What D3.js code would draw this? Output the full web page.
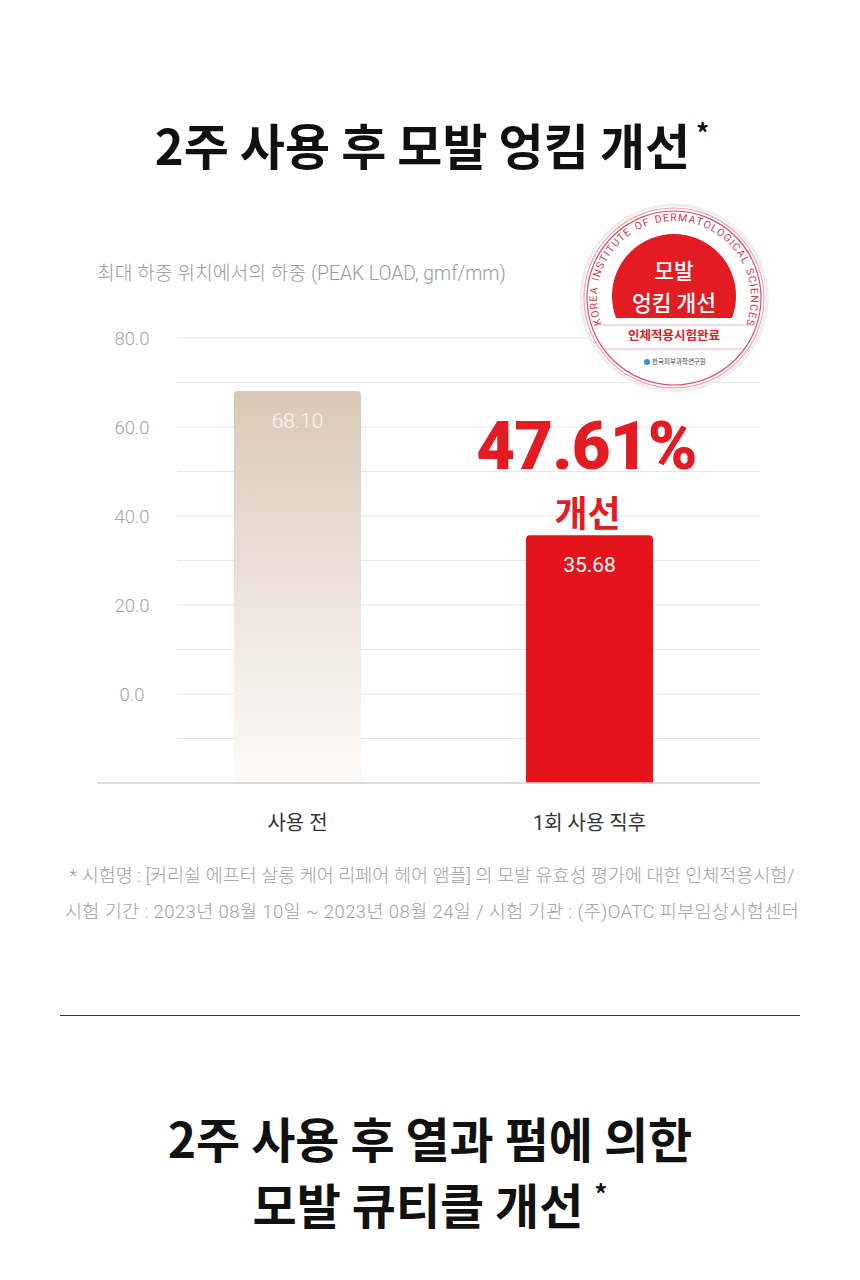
<!DOCTYPE html>
<html>
<head>
<meta charset="utf-8">
<script src="https://cdn.jsdelivr.net/npm/d3@7"></script>
<style>
  body { margin: 0; background: #fff; }
  svg { display: block; }
  text { font-family: Roboto, "Noto Sans CJK KR", sans-serif; }
</style>
</head>
<body>
<div id="chart"></div>
<script>
// Data
const categories = ["사용 전", "1회 사용 직후"];
const values = [68.10, 35.68];
const valueLabels = ["68.10", "35.68"];
const yTicks = [0, 20, 40, 60, 80];
const gridValues = [-10, 0, 10, 20, 30, 40, 50, 60, 70, 80];
const footnotes = [
    "* 시험명 : [커리쉴 에프터 살롱 케어 리페어 헤어 앰플] 의 모발 유효성 평가에 대한 인체적용시험/",
    "시험 기간 : 2023년 08월 10일 ~ 2023년 08월 24일 / 시험 기관 : (주)OATC 피부임상시험센터"
];
const ringLabel = "KOREA INSTITUTE OF DERMATOLOGICAL SCIENCES";

const W = 860, H = 1280;
const svg = d3.select("#chart").append("svg")
    .attr("width", W)
    .attr("height", H);

const defs = svg.append("defs");
const grad = defs.append("linearGradient")
    .attr("id", "beige")
    .attr("x1", "0%").attr("y1", "0%")
    .attr("x2", "0%").attr("y2", "100%");
grad.append("stop").attr("offset", "0%").attr("stop-color", "#d9c8b7");
grad.append("stop").attr("offset", "55%").attr("stop-color", "#eee5dc");
grad.append("stop").attr("offset", "100%").attr("stop-color", "#fdfbf9");

// Title
const title = svg.append("text")
    .attr("x", 432).attr("y", 165)
    .attr("text-anchor", "middle")
    .style("font-family", "'Noto Sans CJK KR'")
    .style("font-weight", 700)
    .style("font-size", "49px")
    .attr("fill", "#111");
title.append("tspan").text("2주 사용 후 모발 엉킴 개선");
title.append("tspan").attr("dx", 6).attr("dy", -22).style("font-size", "26px").text("*");

// Scales
const x = d3.scaleBand()
    .domain(categories)
    .range([151.5, 735.5])
    .paddingInner(0.565)
    .paddingOuter(0.2825);

const y = d3.scaleLinear()
    .domain([-20, 80])
    .range([783, 338]);

// Axis title
svg.append("text")
    .attr("x", 97).attr("y", 280)
    .attr("fill", "#9a9a9a")
    .style("font-size", "19.3px")
    .style("font-weight", 300)
    .text("최대 하중 위치에서의 하중 (PEAK LOAD, gmf/mm)");

// Grid lines
svg.append("g")
    .selectAll("line")
    .data(gridValues)
    .join("line")
    .attr("x1", 177).attr("x2", 760)
    .attr("y1", d => y(d)).attr("y2", d => y(d))
    .attr("stroke", "#e6e6e6")
    .attr("stroke-width", 1);

// Tick labels
svg.append("g")
    .selectAll("text")
    .data(yTicks)
    .join("text")
    .attr("x", 132)
    .attr("y", d => y(d) + 7)
    .attr("text-anchor", "middle")
    .attr("fill", "#a4a4a4")
    .style("font-size", "18.5px")
    .style("font-weight", 300)
    .text(d => d.toFixed(1));

// Bars with rounded top corners
function barPath(x0, w, top, bottom, r) {
    return `M${x0},${bottom} L${x0},${top + r} Q${x0},${top} ${x0 + r},${top}` +
        ` L${x0 + w - r},${top} Q${x0 + w},${top} ${x0 + w},${top + r} L${x0 + w},${bottom} Z`;
}
const barFills = ["url(#beige)", "#e5141c"];
svg.append("g")
    .selectAll("path")
    .data(values)
    .join("path")
    .attr("d", (d, i) => barPath(x(categories[i]), x.bandwidth(), y(d), y(-20), 4))
    .attr("fill", (d, i) => barFills[i]);

// Baseline
svg.append("line")
    .attr("x1", 97).attr("x2", 760)
    .attr("y1", y(-20)).attr("y2", y(-20))
    .attr("stroke", "#cfcfcf")
    .attr("stroke-width", 1.5);

// Value labels
svg.append("g")
    .selectAll("text")
    .data(values)
    .join("text")
    .attr("x", (d, i) => x(categories[i]) + x.bandwidth() / 2)
    .attr("y", d => y(d) + 37)
    .attr("text-anchor", "middle")
    .attr("fill", (d, i) => i === 0 ? "#fbf7f2" : "#fff")
    .style("font-size", "21px")
    .style("font-weight", (d, i) => i === 0 ? 300 : 400)
    .text((d, i) => valueLabels[i]);

// Category labels
svg.append("g")
    .selectAll("text")
    .data(categories)
    .join("text")
    .attr("x", d => x(d) + x.bandwidth() / 2)
    .attr("y", 830)
    .attr("text-anchor", "middle")
    .attr("fill", "#333")
    .style("font-size", "20px")
    .text(d => d);

// Improvement annotation
const cx2 = x(categories[1]) + x.bandwidth() / 2;
svg.append("text")
    .attr("x", cx2 - 3).attr("y", 469)
    .attr("text-anchor", "middle")
    .attr("fill", "#e31b23")
    .style("font-weight", 900)
    .style("font-size", "67px")
    .style("letter-spacing", "-0.8px")
    .text("47.61%");
svg.append("text")
    .attr("x", cx2 - 2).attr("y", 527)
    .attr("text-anchor", "middle")
    .attr("fill", "#e31b23")
    .style("font-family", "'Noto Sans CJK KR'")
    .style("font-weight", 700)
    .style("font-size", "36px")
    .text("개선");

// Footnotes
svg.append("g")
    .selectAll("text")
    .data(footnotes)
    .join("text")
    .attr("x", 432)
    .attr("y", (d, i) => 882 + i * 36)
    .attr("text-anchor", "middle")
    .attr("fill", "#a0a0a0")
    .style("font-size", "18.5px")
    .style("font-weight", 300)
    .style("letter-spacing", (d, i) => i === 1 ? "0.4px" : null)
    .text(d => d);

// Divider
svg.append("line")
    .attr("x1", 60).attr("x2", 800)
    .attr("y1", 1015.5).attr("y2", 1015.5)
    .attr("stroke", "#333")
    .attr("stroke-width", 1);

// Bottom title
const t2 = svg.append("text")
    .attr("text-anchor", "middle")
    .style("font-family", "'Noto Sans CJK KR'")
    .style("font-weight", 700)
    .style("font-size", "48px")
    .attr("fill", "#111");
t2.append("tspan").attr("x", 430).attr("y", 1158).text("2주 사용 후 열과 펌에 의한");
const l2 = t2.append("tspan").attr("x", 430).attr("y", 1224);
l2.append("tspan").text("모발 큐티클 개선 ");
l2.append("tspan").attr("dy", -20).style("font-size", "26px").text("*");

// Badge
const bx = 674, by = 298;
const badge = svg.append("g");
badge.append("circle").attr("cx", bx).attr("cy", by).attr("r", 93)
    .attr("fill", "#fff").attr("stroke", "#eee").attr("stroke-width", 3);
badge.append("circle").attr("cx", bx).attr("cy", by).attr("r", 90)
    .attr("fill", "none").attr("stroke", "#e8a7ae").attr("stroke-width", 1.2);
badge.append("circle").attr("cx", bx).attr("cy", by).attr("r", 87)
    .attr("fill", "none").attr("stroke", "#d9505f").attr("stroke-width", 1.2);

defs.append("clipPath").attr("id", "redclip")
    .append("rect").attr("x", bx - 80).attr("y", by - 80).attr("width", 160).attr("height", 100);
badge.append("circle").attr("cx", bx).attr("cy", by - 2).attr("r", 62)
    .attr("fill", "#e31b23")
    .attr("clip-path", "url(#redclip)");

badge.append("text").attr("x", bx).attr("y", by - 19)
    .attr("text-anchor", "middle").attr("fill", "#fff")
    .style("font-family", "'Noto Sans CJK KR'").style("font-weight", 500).style("font-size", "21.5px")
    .text("모발");
badge.append("text").attr("x", bx).attr("y", by + 13)
    .attr("text-anchor", "middle").attr("fill", "#fff")
    .style("font-family", "'Noto Sans CJK KR'").style("font-weight", 500).style("font-size", "21.5px")
    .text("엉킴 개선");

// Curved ring label, one glyph at a time
const rr = 77;
const ringG = badge.append("g")
    .attr("fill", "#c8404f")
    .style("font-size", "10.5px");
const chars = ringLabel.split("");
const glyphs = ringG.selectAll("text")
    .data(chars)
    .join("text")
    .attr("text-anchor", "middle")
    .text(d => d);
const widths = glyphs.nodes().map((n, i) => chars[i] === " " ? 4 : n.getComputedTextLength());
const arcLen = (220 / 180) * Math.PI * rr;
const extra = (arcLen - d3.sum(widths)) / (chars.length - 1);
let run = 0;
glyphs.each(function(d, i) {
    const mid = run + widths[i] / 2;
    run += widths[i] + extra;
    const theta = Math.PI / 2 + (arcLen / 2 - mid) / rr;
    const px = bx + rr * Math.cos(theta);
    const py = by - rr * Math.sin(theta);
    const rot = 90 - theta * 180 / Math.PI;
    d3.select(this).attr("transform", `translate(${px},${py}) rotate(${rot})`);
});

badge.append("line").attr("x1", bx - 80).attr("x2", bx + 80).attr("y1", by + 27).attr("y2", by + 27)
    .attr("stroke", "#e6b3b8").attr("stroke-width", 1);
badge.append("text").attr("x", bx).attr("y", by + 42)
    .attr("text-anchor", "middle").attr("fill", "#d91f2b")
    .style("font-family", "'Noto Sans CJK KR'").style("font-weight", 700).style("font-size", "12.5px")
    .text("인체적용시험완료");
badge.append("line").attr("x1", bx - 70).attr("x2", bx + 70).attr("y1", by + 51).attr("y2", by + 51)
    .attr("stroke", "#e6b3b8").attr("stroke-width", 1);
badge.append("circle").attr("cx", bx - 27).attr("cy", by + 64).attr("r", 3)
    .attr("fill", "#3b8fd0");
badge.append("text").attr("x", bx - 22).attr("y", by + 66)
    .attr("fill", "#444")
    .style("font-family", "'Noto Sans CJK KR'").style("font-size", "6.5px")
    .text("한국피부과학연구원");
</script>
</body>
</html>
